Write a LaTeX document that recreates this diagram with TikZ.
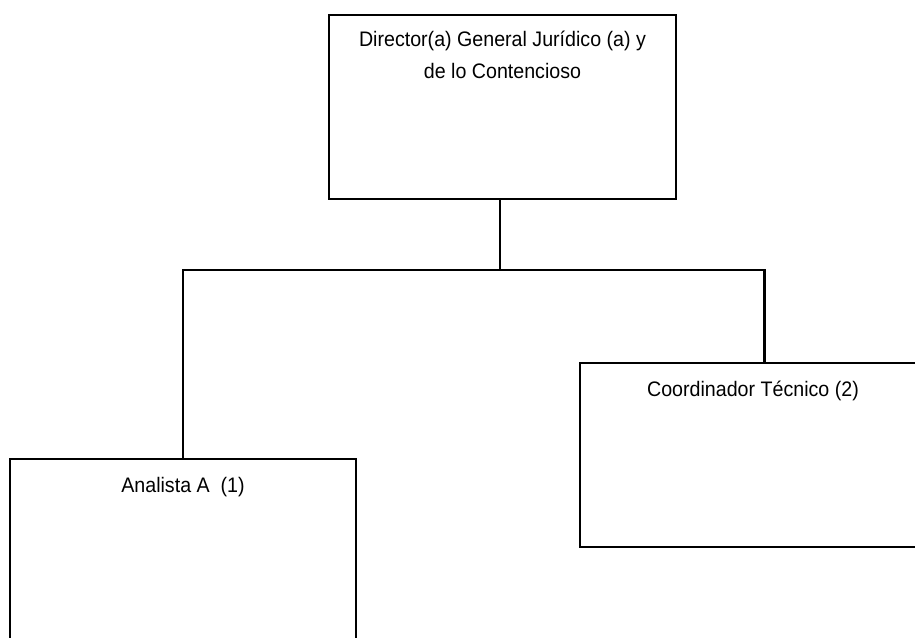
\documentclass[tikz,border=0pt]{standalone}
\usepackage{fontspec}
\setmainfont[FakeStretch=0.935]{Liberation Sans}

\begin{document}
\begin{tikzpicture}[x=0.75pt, y=-0.75pt, line width=1.9pt,
  every node/.style={font=\fontsize{15.75}{24}\selectfont},
  box/.style={draw, rectangle, inner sep=0pt, minimum width=259.5pt, minimum height=138pt},
  txt/.style={anchor=north, align=center, inner sep=0pt}]
  \clip (0,0) rectangle (915,637);
  \node [box, minimum width=260.25pt] (dir) at (502.5,107) {};
  \node [box, minimum height=157.5pt] (ana) at (183,564) {};
  \node [box] (coord) at (753,455) {};
  \node [txt] (dirtxt) at ([yshift=-12pt]dir.north) {Director(a) General Jurídico (a) y\\de lo Contencioso};
  \node [txt] (anatxt) at ([yshift=-13.5pt]ana.north) {Analista A\ \ (1)};
  \node [txt] (coordtxt) at ([yshift=-13.5pt]coord.north) {Coordinador Técnico (2)};
  \coordinate (split) at (500,270);
  \draw (dir.south -| split) -- (split);
  \draw (split) -| (ana.north);
  \draw (split) -| ([xshift=139.5pt]coord.north west);
\end{tikzpicture}
\end{document}
